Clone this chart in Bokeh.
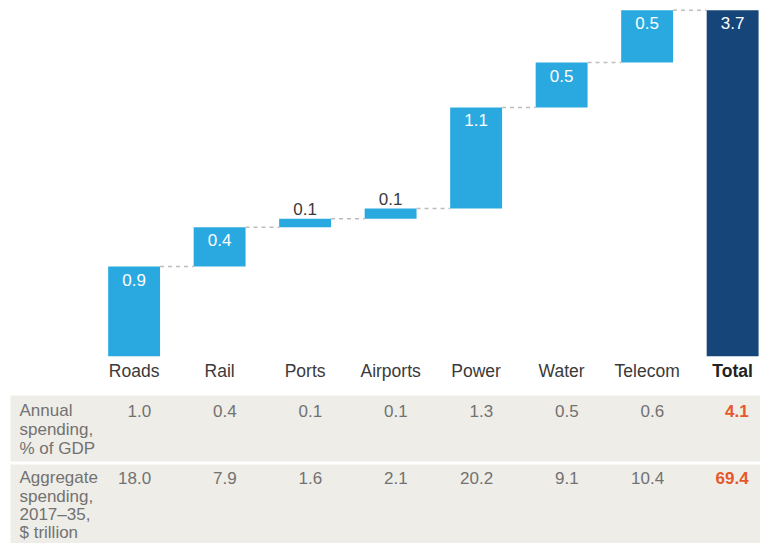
import numpy as np
from bokeh.plotting import figure
from bokeh.models import Range1d
from bokeh.core.properties import value
from bokeh.embed import file_html
from bokeh.resources import INLINE

# ---- data ----
categories = ["Roads", "Rail", "Ports", "Airports", "Power", "Water", "Telecom"]
increments = [0.96, 0.42, 0.09, 0.11, 1.08, 0.48, 0.56]
bar_labels = ["0.9", "0.4", "0.1", "0.1", "1.1", "0.5", "0.5"]
total_value = 3.7
total_label = "3.7"
total_name = "Total"

annual_gdp = ["1.0", "0.4", "0.1", "0.1", "1.3", "0.5", "0.6"]
annual_total = "4.1"
aggregate = ["18.0", "7.9", "1.6", "2.1", "20.2", "9.1", "10.4"]
aggregate_total = "69.4"

row1_label = ["Annual", "spending,", "% of GDP"]
row2_label = ["Aggregate", "spending,", "2017\u201335,", "$ trillion"]

# ---- styles ----
FONT = "Liberation Sans"
LIGHT = "#29A9E0"
NAVY = "#16457A"
TBL_BG = "#EEEDE8"
GRAY = "#727272"
DARK = "#3A3A3A"
ORANGE = "#E5582B"

W, H = 760, 543
p = figure(width=W, height=H, output_backend="svg", toolbar_location=None,
           x_range=Range1d(-1.5626, 7.326), y_range=Range1d(-2.0, 3.8036),
           x_axis_location=None, y_axis_location=None, min_border=0,
           outline_line_color=None)
p.grid.visible = False
p.extra_x_ranges = {"px": Range1d(0, W)}
p.extra_y_ranges = {"px": Range1d(H, 0)}

n = len(categories)
idx = np.arange(n)
tops = np.cumsum(increments)
bottoms = tops - np.array(increments)
BW = 0.607

# bars
p.vbar(x=idx, width=BW, bottom=bottoms, top=tops, fill_color=LIGHT, line_color=None)
p.vbar(x=[n], width=BW, bottom=[0], top=[total_value], fill_color=NAVY, line_color=None)

# connectors
x0 = list(idx + BW / 2)
x1 = list(idx + 1 - BW / 2)
p.segment(x0=x0, y0=list(tops), x1=x1, y1=list(tops), line_color="#BDBDBD",
          line_width=1.5, line_dash="4 4")

# bar labels
inside = [i for i in range(n) if increments[i] >= 0.2]
outside = [i for i in range(n) if increments[i] < 0.2]
p.text(x=[idx[i] for i in inside] + [n], y=[tops[i] for i in inside] + [total_value],
       text=[bar_labels[i] for i in inside] + [total_label], text_color="white",
       text_font=value(FONT), text_font_size="17px", text_align="center",
       text_baseline="middle", y_offset=13)
p.text(x=[idx[i] for i in outside], y=[tops[i] for i in outside],
       text=[bar_labels[i] for i in outside], text_color=DARK,
       text_font=value(FONT), text_font_size="17px", text_align="center",
       text_baseline="middle", y_offset=-10)

# category labels
p.text(x=list(idx), y=[370] * n, y_range_name="px", text=categories, text_color=DARK,
       text_font=value(FONT), text_font_size="17.5px", text_align="center",
       text_baseline="middle")
p.text(x=[n], y=[370], y_range_name="px", text=[total_name], text_color="#222222",
       text_font=value(FONT), text_font_size="17.5px", text_font_style="bold",
       text_align="center", text_baseline="middle")

# table backgrounds
p.quad(left=[10, 10], right=[W, W], top=[395, 464], bottom=[461, H],
       x_range_name="px", y_range_name="px", fill_color=TBL_BG, line_color=None)

# row labels
p.text(x=[19] * len(row1_label), y=[410, 429, 448], x_range_name="px", y_range_name="px",
       text=row1_label, text_color=GRAY, text_font=value(FONT), text_font_size="17px",
       text_align="left", text_baseline="middle")
p.text(x=[19] * len(row2_label), y=[477, 495.5, 514, 532], x_range_name="px", y_range_name="px",
       text=row2_label, text_color=GRAY, text_font=value(FONT), text_font_size="17px",
       text_align="left", text_baseline="middle")

# row values
p.text(x=list(idx), y=[410] * n, y_range_name="px", text=annual_gdp, text_color=GRAY,
       text_font=value(FONT), text_font_size="17px", text_align="right",
       text_baseline="middle", x_offset=17)
p.text(x=list(idx), y=[477] * n, y_range_name="px", text=aggregate, text_color=GRAY,
       text_font=value(FONT), text_font_size="17px", text_align="right",
       text_baseline="middle", x_offset=17)
p.text(x=[n, n], y=[410, 477], y_range_name="px", text=[annual_total, aggregate_total],
       text_color=ORANGE, text_font=value(FONT), text_font_size="17px",
       text_font_style="bold", text_align="right", text_baseline="middle", x_offset=16)

open("out.html", "w").write(file_html(p, INLINE))
